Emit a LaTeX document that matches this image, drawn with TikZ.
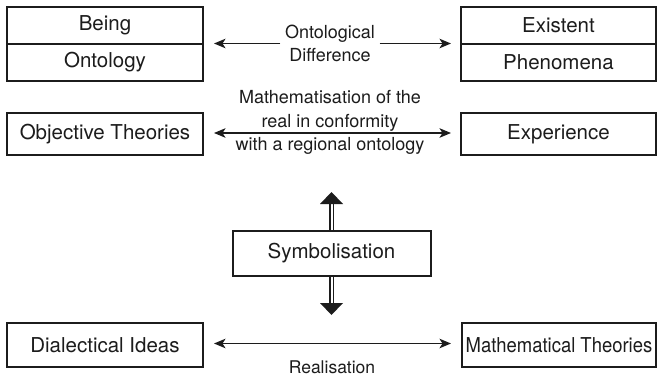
\documentclass[tikz,border=0pt]{standalone}
\usepackage{fontspec}
\setmainfont{TeX Gyre Heros}
\newfontfamily\narrowheros[FakeStretch=0.9]{TeX Gyre Heros}
\usetikzlibrary{arrows.meta}
\definecolor{ink}{HTML}{1C1C1C}

\begin{document}
\begin{tikzpicture}[x=1pt,y=-1pt,
  >={Stealth[length=11.5pt,width=9.5pt,inset=3pt]},
  box/.style={draw=ink, line width=2pt, inner sep=0pt, text=ink,
    font=\fontsize{20.5}{24}\selectfont},
  lbl/.style={align=center, inner sep=0pt, text=ink,
    font=\fontsize{18}{23.3}\selectfont},
  conn/.style={draw=ink, line width=1.5pt},
  shaft/.style={draw=ink, line width=1.4pt, double=white, double distance=2pt}
]
\fill[white] (0,0) rectangle (657,380);
\useasboundingbox (0,0) rectangle (657,380);

% top row: two-part boxes
\node[box, minimum width=196pt, minimum height=37pt] (being) at (105,25.5) {Being};
\node[box, minimum width=196pt, minimum height=37pt] (ontology) at (105,62.5) {Ontology};
\node[box, minimum width=195pt, minimum height=37pt] (existent) at (558.5,25.5) {Existent};
\node[box, minimum width=195pt, minimum height=37pt] (phenomena) at (558.5,62.5) {Phenomena};
\node[lbl, inner xsep=4.5pt] (od) at (330,43.5) {Ontological\\Difference};
\draw[conn, ->] (od.west) -- ([xshift=10pt]od.west -| being.east);
\draw[conn, ->] (od.east) -- ([xshift=-9pt]od.east -| existent.west);

% second row
\node[box, minimum width=196pt, minimum height=42pt] (objective) at (105,134) {Objective Theories};
\node[box, minimum width=195pt, minimum height=42pt] (experience) at (558.5,134) {Experience};
\node[lbl] (math) at (330,122.5) {Mathematisation of the\\real in conformity\\with a regional ontology};
\draw[conn, <->, shorten <=10pt, shorten >=9pt]
  ([yshift=1pt]objective.east) -- ([yshift=1pt]experience.west);

% symbolisation with double-shafted arrows
\node[box, minimum width=198pt, minimum height=45pt] (sym) at (331.5,253.5) {Symbolisation};
\coordinate (uptip) at (331.5,192);
\coordinate (upbase) at (331.5,204);
\coordinate (dnbase) at (331.5,303);
\coordinate (dntip) at (331.5,315);
\draw[shaft] (sym.north) -- ([yshift=1pt]upbase);
\fill[ink] (uptip) -- ([xshift=-11.5pt]upbase) -- ([xshift=11.5pt]upbase) -- cycle;
\draw[shaft] (sym.south) -- ([yshift=-1pt]dnbase);
\fill[ink] (dntip) -- ([xshift=-11.5pt]dnbase) -- ([xshift=11.5pt]dnbase) -- cycle;

% bottom row
\node[box, minimum width=196pt, minimum height=44pt] (dialectical) at (105,345) {Dialectical Ideas};
\node[box, minimum width=194pt, minimum height=44pt] (mathematical) at (559,345)
  {\narrowheros Mathematical Theories};
\draw[conn, <->, shorten <=10pt, shorten >=10pt]
  ([yshift=1.5pt]dialectical.east) -- ([yshift=1.5pt]mathematical.west);
\node[lbl, font=\fontsize{17.5}{21}\selectfont] (real) at (332,367) {Realisation};
\end{tikzpicture}
\end{document}
